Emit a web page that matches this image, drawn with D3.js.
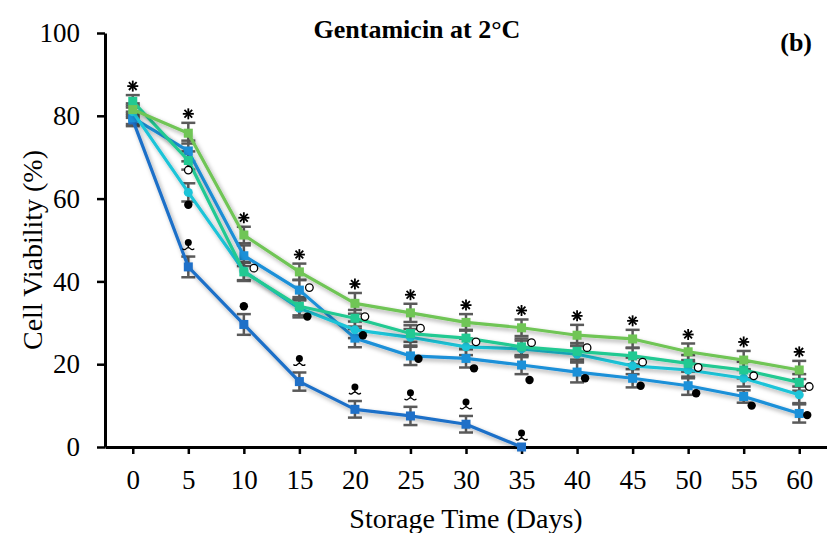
<!DOCTYPE html>
<html>
<head>
<meta charset="utf-8">
<script src="https://cdn.jsdelivr.net/npm/d3@7.9.0/dist/d3.min.js"></script>
<style>
  body { margin: 0; background: #fff; }
  text { font-family: "Liberation Serif", "Times New Roman", serif; }
</style>
</head>
<body>
<svg id="chart" width="827" height="533"></svg>
<script>
// storage days on the x axis
const days = [0, 5, 10, 15, 20, 25, 30, 35, 40, 45, 50, 55, 60];
const yTicks = [0, 20, 40, 60, 80, 100];

// series values (cell viability %)
const darkBlue = [79, 43.5, 29.6, 15.8, 9.1, 7.5, 5.5, 0];
const blue     = [79.5, 71.5, 46.2, 37.9, 26.3, 22.0, 21.4, 19.8, 18.1, 16.6, 14.8, 12.2, 8.1];
const cyan     = [81, 61.5, 42.5, 33.5, 28.3, 26.5, 24.2, 23.7, 22.4, 19.6, 18.6, 16.6, 12.6];
const teal     = [83.5, 69.2, 42.3, 34, 31.1, 27.4, 26.3, 24.2, 23.1, 22.0, 20.2, 18.6, 15.6];
const green    = [81.5, 75.8, 51.2, 42.3, 34.7, 32.4, 30.1, 28.8, 27.0, 26.1, 23.0, 21.0, 18.6];

// error bar half-widths (SD)
const darkBlueErr = [1.5, 2.5, 2.5, 2.2, 2.0, 2.2, 2.0, 0];
const blueErr     = [1.5, 2.5, 2.5, 2.5, 2.2, 2.2, 2.2, 2.2, 2.5, 2.2, 2.2, 1.5, 2.2];
const cyanErr     = [1.5, 2.2, 2.2, 2.2, 2.0, 2.0, 2.0, 2.0, 2.0, 2.0, 2.0, 2.0, 2.0];
const tealErr     = [1.5, 2.2, 2.2, 2.2, 2.0, 2.0, 2.0, 2.0, 2.0, 2.0, 2.0, 2.0, 2.0];
const greenErr    = [1.5, 2.5, 2.0, 2.0, 2.5, 2.2, 2.0, 2.0, 2.5, 2.2, 2.0, 2.2, 2.2];

// significance marks: open circles and filled dots (value positions)
const openMarks   = [null, 66.9, 43.2, 38.5, 31.5, 28.7, 25.4, 25.2, 24.0, 20.5, 19.2, 17.2, 14.6];
const filledMarks = [null, 58.5, 34.0, 31.5, 27.0, 21.3, 19.0, 16.2, 16.6, 14.8, 13.0, 10.0, 7.7];
const pinDays = [5, 15, 20, 25, 30, 35];

const series = [
  { name: "s1", values: darkBlue, err: darkBlueErr, color: "#1f70c8", shape: "square" },
  { name: "s2", values: blue,     err: blueErr,     color: "#1b90d8", shape: "square" },
  { name: "s3", values: cyan,     err: cyanErr,     color: "#1cc4d8", shape: "circle" },
  { name: "s4", values: teal,     err: tealErr,     color: "#22c992", shape: "square" },
  { name: "s5", values: green,    err: greenErr,    color: "#70c556", shape: "square" }
];

const svg = d3.select("#chart");

const x = d3.scaleLinear().domain([-2.5, 62.5]).range([105, 827]);
const y = d3.scaleLinear().domain([0, 100]).range([447, 33]);

// drop shadow for the lines
const defs = svg.append("defs");
const f = defs.append("filter").attr("id", "shadow")
  .attr("x", "-10%").attr("y", "-10%").attr("width", "130%").attr("height", "130%");
f.append("feDropShadow").attr("dx", 2).attr("dy", 2.5).attr("stdDeviation", 2.2)
  .attr("flood-color", "#000").attr("flood-opacity", 0.35);

// Axes
const yAxis = svg.append("g").attr("transform", `translate(105,0)`)
  .call(d3.axisLeft(y).tickValues(yTicks).tickSize(8).tickSizeOuter(0).tickPadding(17));
yAxis.select(".domain").attr("stroke-width", 3);
yAxis.selectAll(".tick line").attr("stroke-width", 2.5);
yAxis.selectAll(".tick text").attr("font-size", 27).attr("fill", "#000")
  .attr("font-family", "Liberation Serif, serif");

const xAxis = svg.append("g").attr("transform", `translate(0,447)`)
  .call(d3.axisBottom(x).tickValues(days).tickSize(7).tickSizeOuter(0).tickPadding(16));
xAxis.select(".domain").attr("stroke-width", 3);
xAxis.selectAll(".tick line").attr("stroke-width", 2.5);
xAxis.selectAll(".tick text").attr("font-size", 27).attr("fill", "#000")
  .attr("font-family", "Liberation Serif, serif");

// Axis labels
svg.append("text")
  .attr("text-anchor", "middle")
  .attr("x", 466)
  .attr("y", 528)
  .attr("font-size", 28)
  .text("Storage Time (Days)");

svg.append("text")
  .attr("text-anchor", "middle")
  .attr("transform", `rotate(-90)`)
  .attr("x", -250)
  .attr("y", 42)
  .attr("font-size", 28)
  .text("Cell Viability (%)");

// Title and panel letter
svg.append("text")
  .attr("text-anchor", "middle")
  .attr("x", 417)
  .attr("y", 38)
  .attr("font-size", 26)
  .attr("font-weight", "bold")
  .text("Gentamicin at 2°C");

svg.append("text")
  .attr("text-anchor", "end")
  .attr("x", 812)
  .attr("y", 51)
  .attr("font-size", 26)
  .attr("font-weight", "bold")
  .text("(b)");

// Error bars
const capW = 7;
series.forEach(s => {
  const eg = svg.append("g").attr("stroke", "#5a5a5a").attr("stroke-width", 2.5);
  s.values.forEach((v, i) => {
    const e = s.err[i];
    if (!e) return;
    const cx = x(days[i]);
    eg.append("line").attr("x1", cx).attr("x2", cx).attr("y1", y(v - e)).attr("y2", y(v + e));
    eg.append("line").attr("x1", cx - capW).attr("x2", cx + capW).attr("y1", y(v - e)).attr("y2", y(v - e));
    eg.append("line").attr("x1", cx - capW).attr("x2", cx + capW).attr("y1", y(v + e)).attr("y2", y(v + e));
  });
});

// Line generator
const line = d3.line()
  .x((d, i) => x(days[i]))
  .y(d => y(d));

series.forEach(s => {
  svg.append("path")
    .datum(s.values)
    .attr("fill", "none")
    .attr("stroke", s.color)
    .attr("stroke-width", 3.2)
    .attr("stroke-linejoin", "round")
    .attr("filter", "url(#shadow)")
    .attr("d", line);

  const mg = svg.append("g").attr("fill", s.color);
  s.values.forEach((v, i) => {
    if (s.shape === "circle") {
      mg.append("circle").attr("cx", x(days[i])).attr("cy", y(v)).attr("r", 4.5);
    } else {
      mg.append("rect").attr("x", x(days[i]) - 4.5).attr("y", y(v) - 4.5)
        .attr("width", 9).attr("height", 9);
    }
  });
});

// Asterisks above the top series
const starG = svg.append("g").attr("stroke", "#000").attr("stroke-width", 1.8);
days.forEach((d, i) => {
  const top = d3.max(series, s => s.values[i] != null ? s.values[i] + s.err[i] : -1);
  const cx = x(d);
  const cy = y(top) - 9;
  [0, 45, 90, 135].forEach(a => {
    const r = 5.5, t = a * Math.PI / 180;
    starG.append("line")
      .attr("x1", cx - r * Math.cos(t)).attr("y1", cy - r * Math.sin(t))
      .attr("x2", cx + r * Math.cos(t)).attr("y2", cy + r * Math.sin(t));
  });
});

// Open circles and filled dots
days.forEach((d, i) => {
  const dxOpen = i === 1 ? 0 : 10;
  const dxFill = i <= 2 ? 0 : 8;
  if (openMarks[i] != null) {
    svg.append("circle").attr("cx", x(d) + dxOpen).attr("cy", y(openMarks[i])).attr("r", 3.8)
      .attr("fill", "#fff").attr("stroke", "#000").attr("stroke-width", 1.3);
  }
  if (filledMarks[i] != null) {
    svg.append("circle").attr("cx", x(d) + dxFill).attr("cy", y(filledMarks[i])).attr("r", 4.2)
      .attr("fill", "#000");
  }
});

// Pin-like marks over the lowest series
pinDays.forEach(d => {
  const i = days.indexOf(d);
  const cx = x(d);
  const cy = y(darkBlue[i] + darkBlueErr[i]) - 14;
  svg.append("circle").attr("cx", cx).attr("cy", cy).attr("r", 3.5).attr("fill", "#000");
  svg.append("path")
    .attr("d", `M${cx - 6},${cy + 6} q2,2 4,0 q2,-2 4,0 q2,2 4,0`)
    .attr("fill", "none").attr("stroke", "#000").attr("stroke-width", 1.2);
  svg.append("line").attr("x1", cx).attr("x2", cx).attr("y1", cy).attr("y2", cy + 5)
    .attr("stroke", "#000").attr("stroke-width", 1.5);
});
</script>
</body>
</html>
